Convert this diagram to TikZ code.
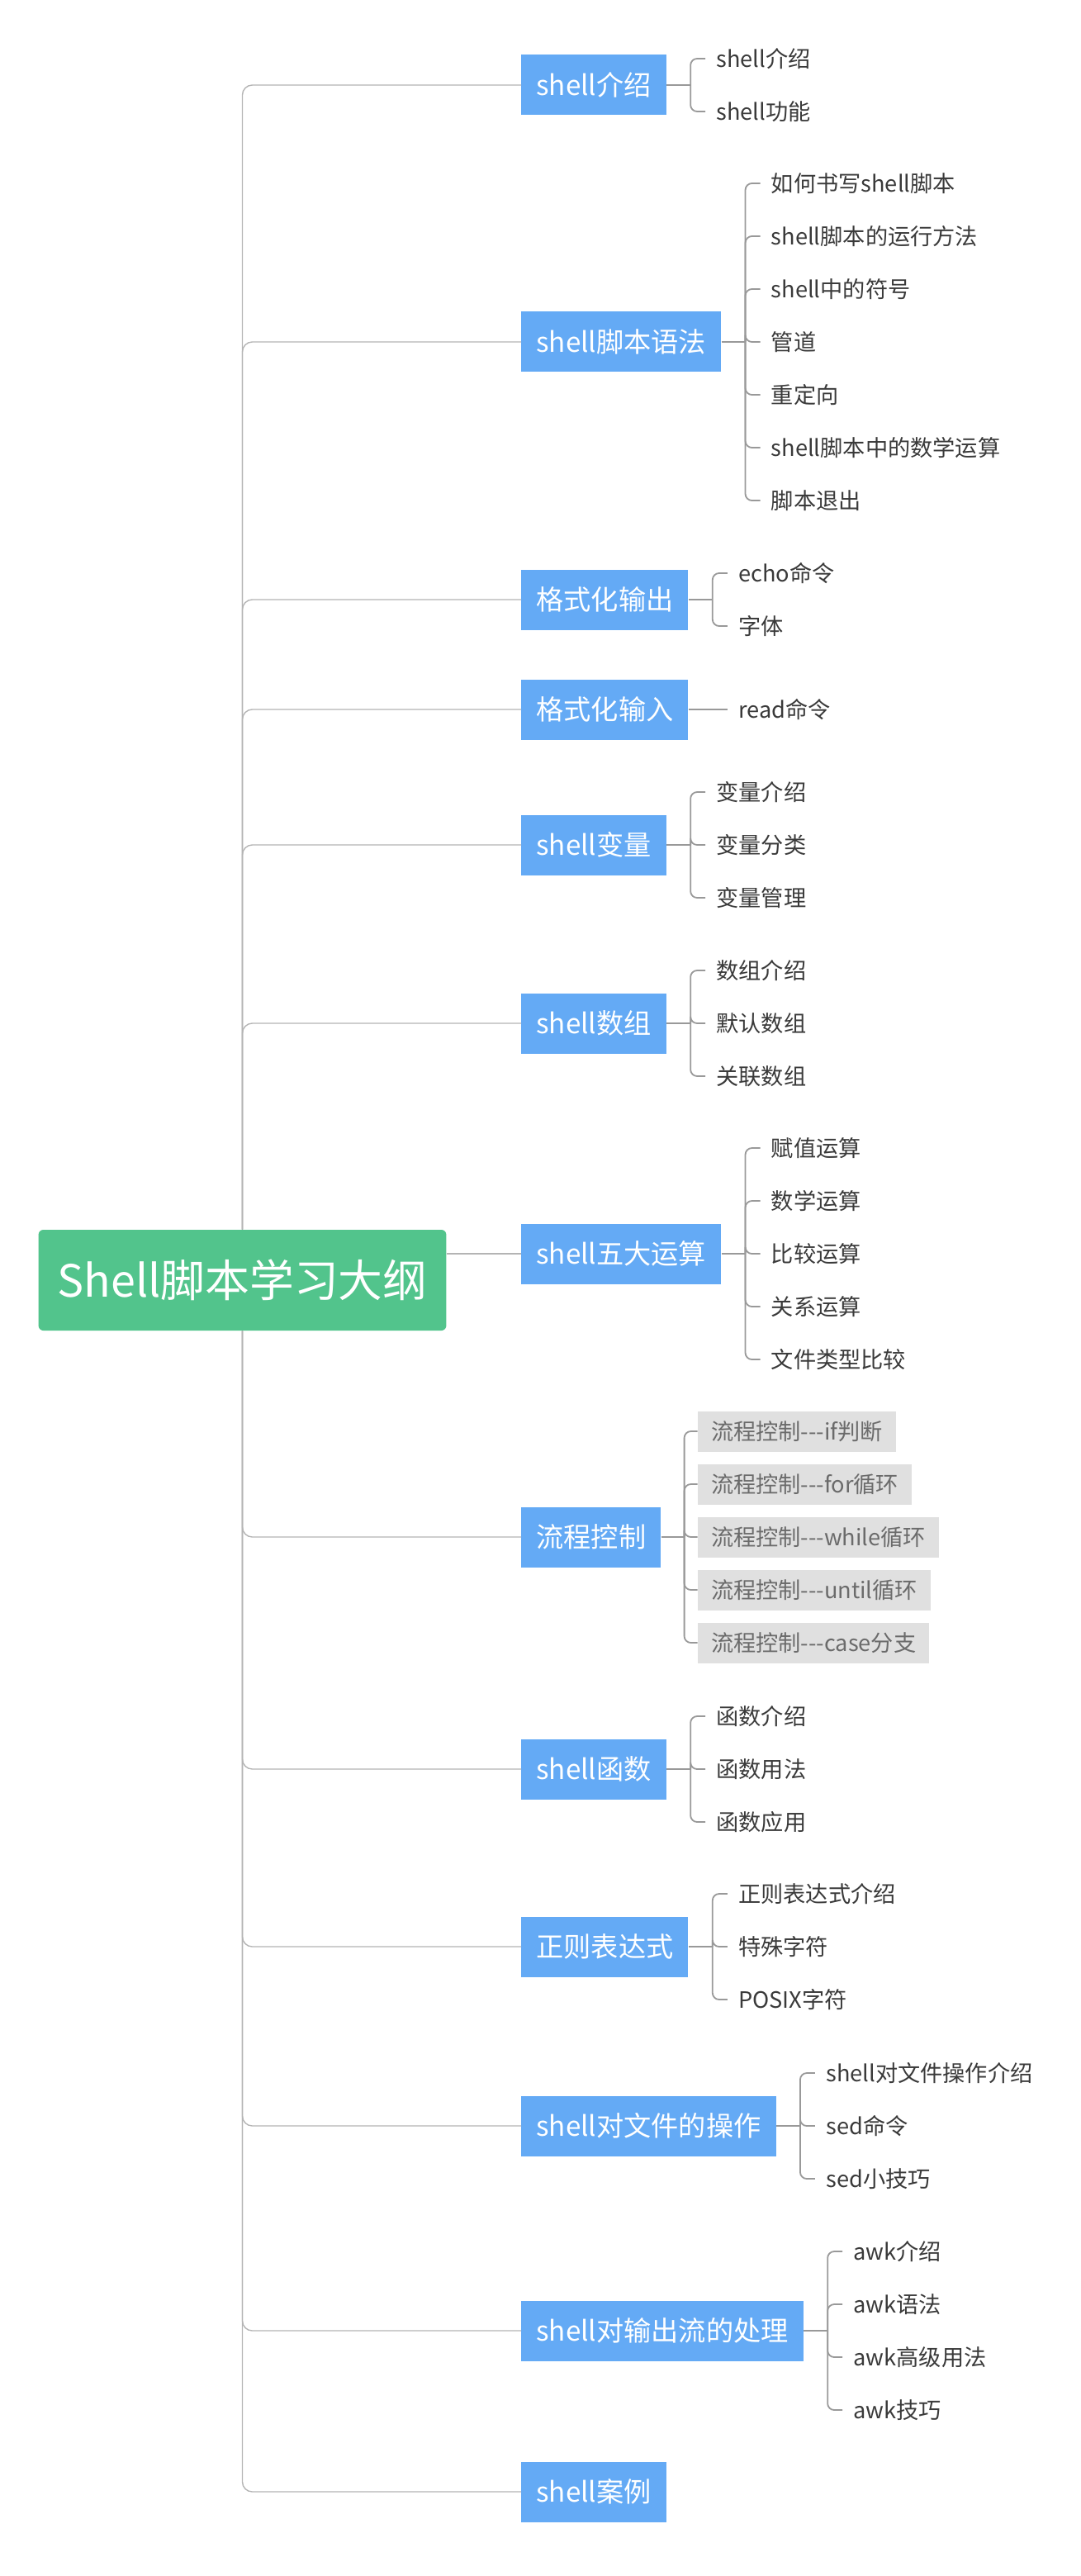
\documentclass[tikz,border=0pt]{standalone}
\usepackage{fontspec}
\setmainfont{Noto Sans CJK SC}
\usetikzlibrary{positioning}

\definecolor{rootgreen}{HTML}{52C48C}
\definecolor{topicblue}{HTML}{64AAF5}
\definecolor{leafgray}{HTML}{E0E0E0}
\definecolor{linegray}{HTML}{B4B4B4}
\definecolor{twiggray}{HTML}{999999}
\definecolor{textgray}{HTML}{3A3A3A}
\newcommand{\dsh}{\mbox{-}\mbox{-}\mbox{-}}

\begin{document}
\begin{tikzpicture}[x=1pt,y=-1pt,
        mainbox/.style={fill=rootgreen,text=white,rounded corners=3pt,inner xsep=11.5pt,
            minimum height=61pt,font=\fontsize{26.9}{30}\selectfont},
        topic/.style={fill=topicblue,text=white,anchor=west,inner xsep=9pt,
            minimum height=36.5pt,font=\fontsize{16.6}{20}\selectfont},
        leaf/.style={text=textgray,inner xsep=6.5pt,minimum height=24.5pt,
            font=\fontsize{13.6}{16}\selectfont},
        grayleaf/.style={leaf,fill=leafgray,text=textgray!75,inner xsep=8pt},
        trunk/.style={draw=linegray,line width=0.7pt,rounded corners=6pt},
        twig/.style={draw=twiggray,line width=0.9pt,rounded corners=4pt}]

  \useasboundingbox (0,0) rectangle (654.5,1559.5);

  \node[mainbox] (root) at (146.75,775) {Shell脚本学习大纲};

  \node[topic] (p1) at (315.5,51.5) {shell介绍};
  \node[topic] (p2) at (315.5,207) {shell脚本语法};
  \node[topic] (p3) at (315.5,363) {格式化输出};
  \node[topic] (p4) at (315.5,429.5) {格式化输入};
  \node[topic] (p5) at (315.5,511.5) {shell变量};
  \node[topic] (p6) at (315.5,619.5) {shell数组};
  \node[topic] (p7) at (315.5,759) {shell五大运算};
  \node[topic] (p8) at (315.5,930.5) {流程控制};
  \node[topic] (p9) at (315.5,1071) {shell函数};
  \node[topic] (p10) at (315.5,1178.5) {正则表达式};
  \node[topic] (p11) at (315.5,1287) {shell对文件的操作};
  \node[topic] (p12) at (315.5,1411) {shell对输出流的处理};
  \node[topic] (p13) at (315.5,1508.5) {shell案例};

  % branches from the root
  \draw[trunk] (root.north) |- (p1.west);
  \draw[trunk] (root.north) |- (p2.west);
  \draw[trunk] (root.north) |- (p3.west);
  \draw[trunk] (root.north) |- (p4.west);
  \draw[trunk] (root.north) |- (p5.west);
  \draw[trunk] (root.north) |- (p6.west);
  \draw[trunk] (root.east |- p7.west) -- (p7.west);
  \draw[trunk] (root.south) |- (p8.west);
  \draw[trunk] (root.south) |- (p9.west);
  \draw[trunk] (root.south) |- (p10.west);
  \draw[trunk] (root.south) |- (p11.west);
  \draw[trunk] (root.south) |- (p12.west);
  \draw[trunk] (root.south) |- (p13.west);

  % shell介绍
  \node[leaf] (p1a) [right=23.5pt of p1, yshift=16pt] {shell介绍};
  \node[leaf] (p1b) [right=23.5pt of p1, yshift=-16pt] {shell功能};
  \draw[twig] (p1.east) -- ++(14.5,0) coordinate (b1);
  \draw[twig] (b1) |- (p1a.west);
  \draw[twig] (b1) |- (p1b.west);

  % shell脚本语法
  \node[leaf] (p2a) [right=23.5pt of p2, yshift=96pt] {如何书写shell脚本};
  \node[leaf] (p2b) [right=23.5pt of p2, yshift=64pt] {shell脚本的运行方法};
  \node[leaf] (p2c) [right=23.5pt of p2, yshift=32pt] {shell中的符号};
  \node[leaf] (p2d) [right=23.5pt of p2] {管道};
  \node[leaf] (p2e) [right=23.5pt of p2, yshift=-32pt] {重定向};
  \node[leaf] (p2f) [right=23.5pt of p2, yshift=-64pt] {shell脚本中的数学运算};
  \node[leaf] (p2g) [right=23.5pt of p2, yshift=-96pt] {脚本退出};
  \draw[twig] (p2.east) -- ++(14.5,0) coordinate (b2);
  \draw[twig] (b2) |- (p2a.west);
  \draw[twig] (b2) |- (p2b.west);
  \draw[twig] (b2) |- (p2c.west);
  \draw[twig] (b2) |- (p2d.west);
  \draw[twig] (b2) |- (p2e.west);
  \draw[twig] (b2) |- (p2f.west);
  \draw[twig] (b2) |- (p2g.west);

  % 格式化输出
  \node[leaf] (p3a) [right=23.5pt of p3, yshift=16pt] {echo命令};
  \node[leaf] (p3b) [right=23.5pt of p3, yshift=-16pt] {字体};
  \draw[twig] (p3.east) -- ++(14.5,0) coordinate (b3);
  \draw[twig] (b3) |- (p3a.west);
  \draw[twig] (b3) |- (p3b.west);

  % 格式化输入
  \node[leaf] (p4a) [right=23.5pt of p4] {read命令};
  \draw[twig] (p4.east) -- (p4a.west);

  % shell变量
  \node[leaf] (p5a) [right=23.5pt of p5, yshift=32pt] {变量介绍};
  \node[leaf] (p5b) [right=23.5pt of p5] {变量分类};
  \node[leaf] (p5c) [right=23.5pt of p5, yshift=-32pt] {变量管理};
  \draw[twig] (p5.east) -- ++(14.5,0) coordinate (b5);
  \draw[twig] (b5) |- (p5a.west);
  \draw[twig] (b5) |- (p5b.west);
  \draw[twig] (b5) |- (p5c.west);

  % shell数组
  \node[leaf] (p6a) [right=23.5pt of p6, yshift=32pt] {数组介绍};
  \node[leaf] (p6b) [right=23.5pt of p6] {默认数组};
  \node[leaf] (p6c) [right=23.5pt of p6, yshift=-32pt] {关联数组};
  \draw[twig] (p6.east) -- ++(14.5,0) coordinate (b6);
  \draw[twig] (b6) |- (p6a.west);
  \draw[twig] (b6) |- (p6b.west);
  \draw[twig] (b6) |- (p6c.west);

  % shell五大运算
  \node[leaf] (p7a) [right=23.5pt of p7, yshift=64pt] {赋值运算};
  \node[leaf] (p7b) [right=23.5pt of p7, yshift=32pt] {数学运算};
  \node[leaf] (p7c) [right=23.5pt of p7] {比较运算};
  \node[leaf] (p7d) [right=23.5pt of p7, yshift=-32pt] {关系运算};
  \node[leaf] (p7e) [right=23.5pt of p7, yshift=-64pt] {文件类型比较};
  \draw[twig] (p7.east) -- ++(14.5,0) coordinate (b7);
  \draw[twig] (b7) |- (p7a.west);
  \draw[twig] (b7) |- (p7b.west);
  \draw[twig] (b7) |- (p7c.west);
  \draw[twig] (b7) |- (p7d.west);
  \draw[twig] (b7) |- (p7e.west);

  % 流程控制
  \node[grayleaf] (p8a) [right=22pt of p8, yshift=64pt] {流程控制\dsh if判断};
  \node[grayleaf] (p8b) [right=22pt of p8, yshift=32pt] {流程控制\dsh for循环};
  \node[grayleaf] (p8c) [right=22pt of p8] {流程控制\dsh while循环};
  \node[grayleaf] (p8d) [right=22pt of p8, yshift=-32pt] {流程控制\dsh until循环};
  \node[grayleaf] (p8e) [right=22pt of p8, yshift=-64pt] {流程控制\dsh case分支};
  \draw[twig] (p8.east) -- ++(14,0) coordinate (b8);
  \draw[twig] (b8) |- (p8a.west);
  \draw[twig] (b8) |- (p8b.west);
  \draw[twig] (b8) |- (p8c.west);
  \draw[twig] (b8) |- (p8d.west);
  \draw[twig] (b8) |- (p8e.west);

  % shell函数
  \node[leaf] (p9a) [right=23.5pt of p9, yshift=32pt] {函数介绍};
  \node[leaf] (p9b) [right=23.5pt of p9] {函数用法};
  \node[leaf] (p9c) [right=23.5pt of p9, yshift=-32pt] {函数应用};
  \draw[twig] (p9.east) -- ++(14.5,0) coordinate (b9);
  \draw[twig] (b9) |- (p9a.west);
  \draw[twig] (b9) |- (p9b.west);
  \draw[twig] (b9) |- (p9c.west);

  % 正则表达式
  \node[leaf] (p10a) [right=23.5pt of p10, yshift=32pt] {正则表达式介绍};
  \node[leaf] (p10b) [right=23.5pt of p10] {特殊字符};
  \node[leaf] (p10c) [right=23.5pt of p10, yshift=-32pt] {POSIX字符};
  \draw[twig] (p10.east) -- ++(14.5,0) coordinate (b10);
  \draw[twig] (b10) |- (p10a.west);
  \draw[twig] (b10) |- (p10b.west);
  \draw[twig] (b10) |- (p10c.west);

  % shell对文件的操作
  \node[leaf] (p11a) [right=23.5pt of p11, yshift=32pt] {shell对文件操作介绍};
  \node[leaf] (p11b) [right=23.5pt of p11] {sed命令};
  \node[leaf] (p11c) [right=23.5pt of p11, yshift=-32pt] {sed小技巧};
  \draw[twig] (p11.east) -- ++(14.5,0) coordinate (b11);
  \draw[twig] (b11) |- (p11a.west);
  \draw[twig] (b11) |- (p11b.west);
  \draw[twig] (b11) |- (p11c.west);

  % shell对输出流的处理
  \node[leaf] (p12a) [right=23.5pt of p12, yshift=48pt] {awk介绍};
  \node[leaf] (p12b) [right=23.5pt of p12, yshift=16pt] {awk语法};
  \node[leaf] (p12c) [right=23.5pt of p12, yshift=-16pt] {awk高级用法};
  \node[leaf] (p12d) [right=23.5pt of p12, yshift=-48pt] {awk技巧};
  \draw[twig] (p12.east) -- ++(14.5,0) coordinate (b12);
  \draw[twig] (b12) |- (p12a.west);
  \draw[twig] (b12) |- (p12b.west);
  \draw[twig] (b12) |- (p12c.west);
  \draw[twig] (b12) |- (p12d.west);

\end{tikzpicture}
\end{document}
